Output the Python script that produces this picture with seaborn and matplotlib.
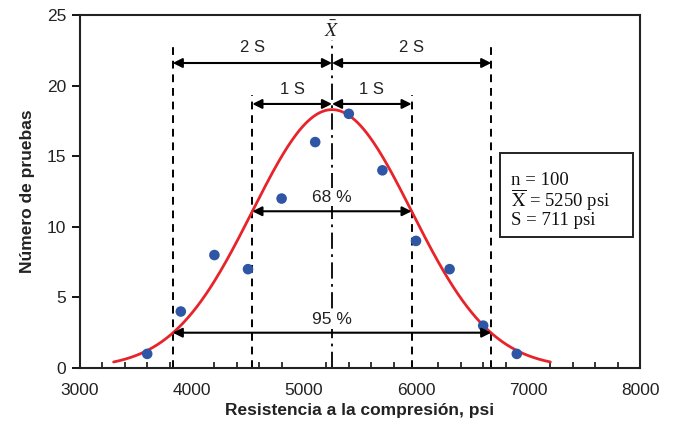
import numpy as np
import pandas as pd
import matplotlib
matplotlib.use("Agg")
import matplotlib.pyplot as plt
import seaborn as sns
from matplotlib.ticker import MultipleLocator

# ---- data ----
strength = [3600, 3900, 4200, 4500, 4800, 5100, 5400, 5700, 6000, 6300, 6600, 6900]
count = [1, 4, 8, 7, 12, 16, 18, 14, 9, 7, 3, 1]
n_tests = 100
mean_x = 5250
std_s = 711
curve_peak = 18.3
curve_range = (3300, 7200)
x_ticks = [3000, 4000, 5000, 6000, 7000, 8000]
y_ticks = [0, 5, 10, 15, 20, 25]

sns.set_theme(style="white")
plt.rcParams["font.family"] = ["Liberation Sans", "DejaVu Sans"]
plt.rcParams["mathtext.fontset"] = "stix"

fig = plt.figure(figsize=(6.75, 4.29), dpi=100)
ax = fig.add_axes([80 / 675, 1 - 368 / 429, 560 / 675, 353 / 429])

# normal curve from the stated mean and S
xc = np.linspace(curve_range[0], curve_range[1], 300)
yc = curve_peak * np.exp(-0.5 * ((xc - mean_x) / std_s) ** 2)
sns.lineplot(x=xc, y=yc, ax=ax, color="#E8242B", lw=2, zorder=3)

sns.scatterplot(x=strength, y=count, ax=ax, color="#2F55A5", s=58,
                edgecolor="none", zorder=4)

ax.set_xlim(x_ticks[0], x_ticks[-1])
ax.set_ylim(y_ticks[0], y_ticks[-1])
ax.set_xticks(x_ticks)
ax.set_yticks(y_ticks)
ax.xaxis.set_minor_locator(MultipleLocator(200))
ax.tick_params(axis="x", which="major", direction="inout", length=9, width=1.3,
               labelsize=12.5, pad=6, color="black", labelcolor="#222222")
ax.tick_params(axis="x", which="minor", direction="in", length=4, width=1.1,
               color="black", bottom=True)
ax.tick_params(axis="y", which="major", direction="out", length=6, width=1.3,
               labelsize=12.5, pad=4, color="black", labelcolor="#222222", left=True)
for sp in ax.spines.values():
    sp.set_color("#222222")
    sp.set_linewidth(1.5)

ax.set_xlabel("Resistencia a la compresión, psi", fontsize=12.5, fontweight="bold",
              color="#222222", labelpad=4)
ax.set_ylabel("Número de pruebas", fontsize=12.5, fontweight="bold",
              color="#222222", labelpad=8)

# vertical reference lines
s1l, s1r = mean_x - std_s, mean_x + std_s
s2l, s2r = mean_x - 2 * std_s, mean_x + 2 * std_s
dash = dict(color="black", lw=1.4, ls=(0, (4, 3)), zorder=2)
ax.plot([s2l, s2l], [0, 23.0], **dash)
ax.plot([s2r, s2r], [0, 23.0], **dash)
ax.plot([s1l, s1l], [0, 19.3], **dash)
ax.plot([s1r, s1r], [0, 19.3], **dash)
ax.plot([mean_x, mean_x], [0, 23.2], color="black", lw=1.3,
        ls=(0, (9, 3, 1.5, 3)), zorder=2)

arrow = dict(arrowstyle="<|-|>", color="black", lw=1.5, mutation_scale=14,
             shrinkA=0, shrinkB=0)
def harrow(x0, x1, y):
    ax.annotate("", xy=(x0, y), xytext=(x1, y), arrowprops=arrow, zorder=5)

harrow(s2l, mean_x, 21.6)
harrow(mean_x, s2r, 21.6)
harrow(s1l, mean_x, 18.7)
harrow(mean_x, s1r, 18.7)
harrow(s1l, s1r, 11.1)
harrow(s2l, s2r, 2.5)

lab = dict(ha="center", va="center", fontsize=12, color="#222222")
ax.text((s2l + mean_x) / 2, 22.7, "2 S", **lab)
ax.text((mean_x + s2r) / 2, 22.7, "2 S", **lab)
ax.text((s1l + mean_x) / 2, 19.7, "1 S", **lab)
ax.text((mean_x + s1r) / 2, 19.7, "1 S", **lab)
ax.text(mean_x, 23.9, r"$\bar{X}$", ha="center", va="center", fontsize=14,
        color="#222222")
wb = dict(facecolor="white", edgecolor="none", pad=1)
ax.text(mean_x, 12.1, "68 %", ha="center", va="center", fontsize=12.5,
        color="#222222", bbox=wb, zorder=4)
ax.text(mean_x, 3.4, "95 %", ha="center", va="center", fontsize=12.5,
        color="#222222", bbox=wb, zorder=4)

# stats box
ax.add_patch(plt.Rectangle((6750, 9.3), 1188, 5.9, fill=False, ec="#222222",
                           lw=1.4, zorder=5))
box = dict(ha="left", va="center", fontsize=13.5, color="#111111",
           family=["Liberation Serif", "DejaVu Serif"], zorder=6)
ax.text(6850, 13.3, f"n = {n_tests}", **box)
ax.text(6850, 11.9, r"$\overline{\mathrm{X}}$" + f" = {mean_x} psi", **box)
ax.text(6850, 10.45, f"S = {std_s} psi", **box)

fig.savefig("out.png", dpi=100)
